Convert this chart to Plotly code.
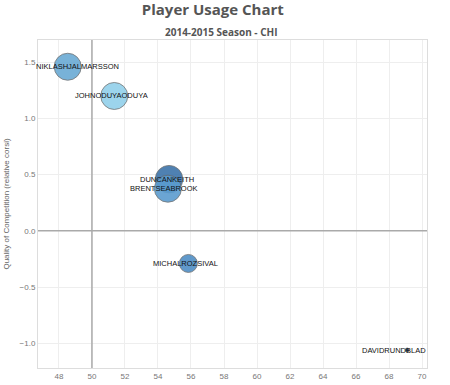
import plotly.graph_objects as go

players = ["NIKLASHJALMARSSON", "JOHNODUYAODUYA", "DUNCANKEITH",
           "BRENTSEABROOK", "MICHALROZSIVAL", "DAVIDRUNDBLAD"]
zone_start = [48.53, 51.35, 54.67, 54.6, 55.84, 69.1]
quality_comp = [1.46, 1.2, 0.46, 0.375, -0.29, -1.06]
usage = [27, 27, 27.5, 27, 18, 4]
colors = ["#6aaad4", "#92d0ea", "#3c74aa", "#5b9ccf", "#4f8fc6", "#1c3c6a"]
label_shift = [10, -3, -2, -4, -3, -13]

x_ticks = list(range(48, 71, 2))
y_ticks = [-1.0, -0.5, 0.0, 0.5, 1.0, 1.5]

fig = go.Figure()
fig.add_trace(go.Scatter(
    x=zone_start, y=quality_comp, mode="markers",
    marker=dict(size=usage, sizemode="diameter", sizeref=1, color=colors,
                opacity=0.9, line=dict(color="#666666", width=0.8)),
    hoverinfo="skip", cliponaxis=False,
))
for name, x, y, s in zip(players, zone_start, quality_comp, label_shift):
    fig.add_annotation(x=x, y=y, text=name, showarrow=False, xshift=s,
                       font=dict(family="Arial", size=7.5, color="#111111"))

fig.update_layout(
    width=450, height=385,
    margin=dict(l=38, r=23, t=40, b=17),
    paper_bgcolor="white", plot_bgcolor="white",
    showlegend=False,
    title=dict(text="<b>Player Usage Chart</b>", x=0.473, xanchor="center",
               y=0.974, yanchor="middle",
               font=dict(family="Open Sans", size=15, color="#555555")),
    annotations=list(fig.layout.annotations) + [
        dict(text="<b>2014-2015 Season - CHI</b>", xref="paper", yref="paper",
             x=0.473, y=1.0, yshift=8, showarrow=False, xanchor="center",
             yanchor="middle",
             font=dict(family="Open Sans", size=10, color="#555555")),
    ],
)
fig.update_xaxes(range=[46.73, 70.3], tickvals=x_ticks, ticks="",
                 automargin=False,
                 showgrid=True, gridcolor="#eeeeee", gridwidth=1,
                 zeroline=False, showline=True, linecolor="#dddddd", mirror=True,
                 tickfont=dict(family="Arial", size=8, color="#777777"))
fig.update_yaxes(range=[-1.22, 1.698], tickvals=y_ticks, tickformat=".1f",
                 ticks="", automargin=False,
                 showgrid=True, gridcolor="#eeeeee", gridwidth=1,
                 zeroline=False, showline=True, linecolor="#dddddd", mirror=True,
                 tickfont=dict(family="Arial", size=8, color="#777777"),
                 title=dict(text="Quality of Competition (relative corsi)",
                            font=dict(family="Arial", size=8, color="#666666"),
                            standoff=8))
fig.add_hline(y=0, line=dict(color="#aaaaaa", width=1.5))
fig.add_vline(x=50, line=dict(color="#aaaaaa", width=1.5))

fig.write_html("out.html",
               config={"displayModeBar": False},
               post_script="document.body.style.margin='0px';"
                           "document.body.style.overflow='hidden';")
